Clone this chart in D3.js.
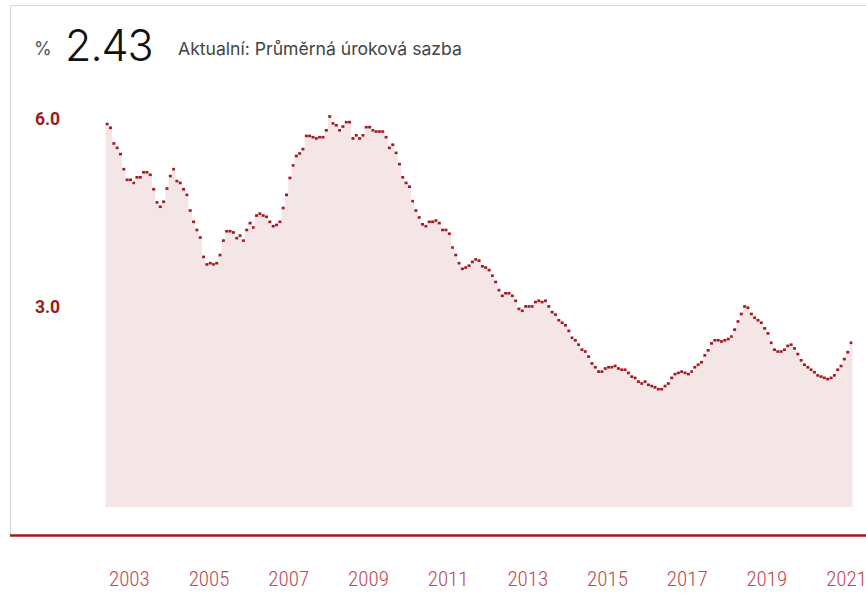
<!DOCTYPE html>
<html>
<head>
<meta charset="utf-8">
<script src="https://cdn.jsdelivr.net/npm/d3@7"></script>
<style>
  html, body { margin: 0; padding: 0; background: #fff; }
  svg { display: block; }
</style>
</head>
<body>
<div id="chart"></div>
<script>
// monthly average rate, first value = June 2002
var startMonth = new Date(2002, 5, 1);
var rates = [
  5.92, 5.86, 5.61, 5.54, 5.44, 5.20, 5.03, 5.03, 4.98, 5.07, 5.07, 5.15, 5.15, 5.11, 4.88, 4.67,
  4.60, 4.68, 4.89, 5.09, 5.20, 5.01, 4.98, 4.88, 4.79, 4.54, 4.36, 4.23, 4.11, 3.80, 3.68, 3.70,
  3.68, 3.70, 3.83, 4.06, 4.21, 4.21, 4.19, 4.10, 4.14, 4.06, 4.23, 4.34, 4.27, 4.46, 4.49, 4.46,
  4.44, 4.36, 4.29, 4.31, 4.36, 4.58, 4.79, 5.06, 5.26, 5.41, 5.45, 5.52, 5.73, 5.73, 5.71, 5.69,
  5.71, 5.71, 5.82, 6.04, 5.93, 5.90, 5.82, 5.88, 5.95, 5.95, 5.69, 5.74, 5.69, 5.74, 5.87, 5.87,
  5.82, 5.80, 5.80, 5.80, 5.71, 5.54, 5.59, 5.46, 5.28, 5.07, 4.98, 4.92, 4.69, 4.54, 4.43, 4.32,
  4.29, 4.36, 4.36, 4.38, 4.34, 4.23, 4.23, 4.17, 3.95, 3.83, 3.70, 3.61, 3.63, 3.66, 3.72, 3.76,
  3.74, 3.65, 3.63, 3.59, 3.50, 3.40, 3.27, 3.18, 3.22, 3.22, 3.18, 3.10, 2.97, 2.94, 3.01, 3.01,
  3.01, 3.08, 3.10, 3.08, 3.10, 3.01, 2.92, 2.88, 2.79, 2.75, 2.71, 2.62, 2.51, 2.47, 2.40, 2.32,
  2.29, 2.21, 2.10, 2.04, 1.97, 1.97, 2.02, 2.04, 2.04, 2.06, 2.02, 2.00, 2.00, 1.95, 1.89, 1.87,
  1.81, 1.78, 1.81, 1.76, 1.74, 1.72, 1.69, 1.69, 1.74, 1.78, 1.87, 1.93, 1.95, 1.97, 1.95, 1.93,
  1.97, 2.04, 2.08, 2.12, 2.23, 2.31, 2.42, 2.47, 2.47, 2.45, 2.47, 2.49, 2.53, 2.64, 2.77, 2.89,
  3.01, 2.99, 2.89, 2.83, 2.79, 2.75, 2.66, 2.58, 2.43, 2.32, 2.29, 2.29, 2.32, 2.38, 2.40, 2.34,
  2.25, 2.15, 2.08, 2.04, 2.00, 1.96, 1.91, 1.89, 1.87, 1.85, 1.87, 1.91, 2.00, 2.06, 2.17, 2.28,
  2.43
];
var yTicks = [3.0, 6.0];
var xTickYears = [2003, 2005, 2007, 2009, 2011, 2013, 2015, 2017, 2019, 2021];
var currentValue = '2.43';
var currentLabel = 'Aktualní: Průměrná úroková sazba';

var width = 866;
var height = 593;
var red = '#a3171e';

var data = rates.map(function (v, i) {
  return { date: d3.timeMonth.offset(startMonth, i), value: v };
});
var endMonth = d3.timeMonth.offset(startMonth, rates.length);

var x = d3.scaleTime()
  .domain([startMonth, endMonth])
  .range([105.5, 852.5]);

var y = d3.scaleLinear()
  .domain([-0.19, 6])
  .range([507, 119]);

var svg = d3.select('#chart')
  .append('svg')
  .attr('width', width)
  .attr('height', height);

// frame
svg.append('path')
  .attr('d', 'M10.5,536 V5.5 H866')
  .attr('fill', 'none')
  .attr('stroke', '#d6d6d6')
  .attr('stroke-width', 1);

// header
svg.append('text')
  .attr('x', 34)
  .attr('y', 55)
  .attr('font-family', 'Inter, sans-serif')
  .attr('font-size', 18)
  .attr('fill', '#555')
  .text('%');

svg.append('text')
  .attr('x', 65)
  .attr('y', 61)
  .attr('font-family', 'Inter, sans-serif')
  .attr('font-weight', 300)
  .attr('font-size', 43)
  .attr('letter-spacing', -1)
  .attr('fill', '#111')
  .text(currentValue);

svg.append('text')
  .attr('x', 178)
  .attr('y', 55)
  .attr('font-family', 'Inter, sans-serif')
  .attr('font-size', 17.6)
  .attr('fill', '#444')
  .text(currentLabel);

// step area
var area = d3.area()
  .curve(d3.curveStepAfter)
  .x(function (d) { return x(d.date); })
  .y0(y.range()[0])
  .y1(function (d) { return y(d.value); });

svg.append('path')
  .datum(data.concat([{ date: endMonth, value: rates[rates.length - 1] }]))
  .attr('d', area)
  .attr('fill', '#f4e5e6');

// one short dash per month
svg.selectAll('rect.mark')
  .data(data)
  .enter()
  .append('rect')
  .classed('mark', true)
  .attr('x', function (d) { return x(d.date) + 0.2; })
  .attr('y', function (d) { return y(d.value) - 1.3; })
  .attr('width', function (d) { return x(d3.timeMonth.offset(d.date, 1)) - x(d.date) - 0.4; })
  .attr('height', 2.6)
  .attr('fill', red);

// y labels
svg.selectAll('text.ylab')
  .data(yTicks)
  .enter()
  .append('text')
  .classed('ylab', true)
  .attr('x', 35)
  .attr('y', function (d) { return y(d); })
  .attr('dy', '0.35em')
  .attr('font-family', 'Roboto, sans-serif')
  .attr('font-weight', 700)
  .attr('font-size', 17.5)
  .attr('fill', '#9c1b21')
  .text(function (d) { return d.toFixed(1); });

// baseline
svg.append('line')
  .attr('x1', 10)
  .attr('x2', width)
  .attr('y1', 535.5)
  .attr('y2', 535.5)
  .attr('stroke', red)
  .attr('stroke-width', 2.5);

// x labels
var xAxis = d3.axisBottom(x)
  .tickValues(xTickYears.map(function (yr) { return new Date(yr, 0, 1); }))
  .tickFormat(d3.timeFormat('%Y'))
  .tickSize(0)
  .tickPadding(0);

var gx = svg.append('g')
  .attr('transform', 'translate(0,571)')
  .call(xAxis);

gx.select('.domain').remove();
gx.selectAll('text')
  .attr('font-family', '"Liberation Sans Narrow", "Roboto Condensed", sans-serif')
  .attr('font-size', 21)
  .attr('font-weight', 300)
  .attr('fill', '#bd4a50');
</script>
</body>
</html>
